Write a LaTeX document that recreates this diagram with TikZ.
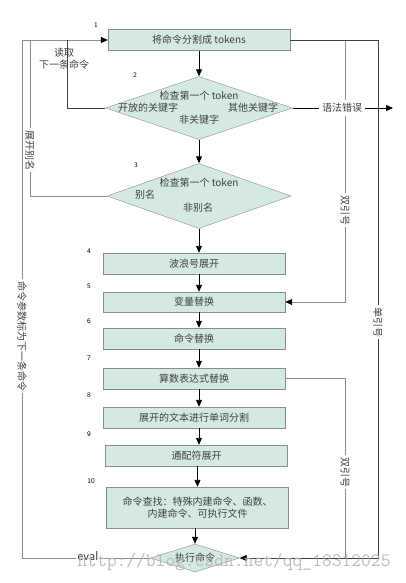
\documentclass[tikz,border=0pt]{standalone}
\usepackage{fontspec}
\newfontfamily\cjk{Noto Sans CJK SC}
\usetikzlibrary{arrows.meta,shapes.geometric,positioning}
\definecolor{boxfill}{RGB}{212,233,228}
\definecolor{edgegray}{RGB}{140,140,140}
\tikzset{
  stepbox/.style={draw=edgegray, fill=boxfill, minimum width=182pt, minimum height=21pt, inner sep=2pt, font=\cjk\fontsize{10}{12}\selectfont, text=black!75},
  decide/.style={diamond, draw=edgegray, fill=boxfill, inner sep=0pt},
  lbl/.style={font=\cjk\fontsize{10}{12}\selectfont, text=black!75, inner sep=1pt},
  num/.style={font=\sffamily\fontsize{7}{8}\selectfont, inner sep=0pt},
  vlbl/.style={lbl, rotate=-90, fill=white, inner sep=2pt},
  tip/.style={-{Triangle[length=7pt,width=6pt,black]}},
  flow/.style={line width=0.9pt, tip},
  back/.style={draw=edgegray, line width=0.6pt},
  dark/.style={draw=black!75, line width=0.7pt}
}
\begin{document}
\begin{tikzpicture}[x=1pt,y=-1pt]
  \useasboundingbox[fill=white] (0,0) rectangle (405,583);
  % main column
  \node[stepbox] (split) at (199,40) {将命令分割成 tokens};
  \node[decide, minimum width=187pt, minimum height=63pt] (kw) at (199,108) {};
  \node[lbl] (kwq) at (199,96) {检查第一个 token};
  \node[lbl] (kwopen) at (148,108) {开放的关键字};
  \node[lbl] (kwother) at (253,108) {其他关键字};
  \node[lbl] (kwnone) at (199,120) {非关键字};
  \node[decide, minimum width=184pt, minimum height=65pt] (alias) at (199,196) {};
  \node[lbl] (aliasq) at (199,183) {检查第一个 token};
  \node[lbl] (aliasyes) at (145,195) {别名};
  \node[lbl] (aliasno) at (198,208) {非别名};
  \node[stepbox] (tilde) at (194,263.5) {波浪号展开};
  \node[stepbox, minimum height=20pt] (vars) at (194,302) {变量替换};
  \node[stepbox] (cmdsub) at (194,338.5) {命令替换};
  \node[stepbox] (arith) at (194,378.5) {算数表达式替换};
  \node[stepbox] (words) at (194,417.5) {展开的文本进行单词分割};
  \node[stepbox] (glob) at (196.5,455.5) {通配符展开};
  \node[stepbox, minimum height=41pt, align=center] (lookup) at (197.5,507.5) {命令查找：特殊内建命令、函数、\\内建命令、可执行文件};
  \node[decide, minimum width=89pt, minimum height=28pt] (exec) at (195,558) {};
  \node[lbl] (execq) at (195,558) {执行命令};
  \node[font=\sffamily\fontsize{13}{14}\selectfont, text=black!80, inner sep=2pt] (eval) at (88,556) {eval};

  % step numbers
  \node[num] (n1) at (96,25) {1};
  \node[num] (n2) at (135,75) {2};
  \node[num] (n3) at (136,165) {3};
  \node[num] (n4) at (89,251) {4};
  \node[num] (n5) at (89,286) {5};
  \node[num] (n6) at (89,321) {6};
  \node[num] (n7) at (89,358) {7};
  \node[num] (n8) at (89,395) {8};
  \node[num] (n9) at (89,434) {9};
  \node[num] (n10) at (91,481) {10};

  % main flow
  \draw[flow] (split.south) -- (split.south |- kw.north);
  \draw[flow] (kw.south) -- (alias.north);
  \draw[flow] (alias.south) -- (alias.south |- tilde.north);
  \draw[flow] (tilde.south -| alias.south) -- (vars.north -| alias.south);
  \draw[flow] (vars.south -| alias.south) -- (cmdsub.north -| alias.south);
  \draw[flow] (cmdsub.south -| alias.south) -- (arith.north -| alias.south);
  \draw[flow] (arith.south -| alias.south) -- (words.north -| alias.south);
  \draw[flow] (words.south -| alias.south) -- (glob.north -| alias.south);
  \draw[flow] (glob.south -| lookup.south) -- (lookup.north -| lookup.south);
  \draw[flow] (lookup.south -| exec.north) -- (exec.north);

  % syntax error
  \node[lbl, fill=white, inner sep=3pt] (err) at (342,108) {语法错误};
  \coordinate (errout) at (393,108);

  % left loops
  \coordinate (lefttop) at (22,40);
  \coordinate (aliastop) at (30,40);
  \coordinate (readtop) at (67,40);
  \draw[back] (exec.west) -- (exec.west -| eval.east);
  \draw[back, tip] (eval.west |- exec.west) -| (lefttop) -- (split.west);
  \draw[back] (alias.west) -| (aliastop);
  \draw[dark] (kw.west) -| (readtop);

  % right loops
  \coordinate (rtop) at (378,40);
  \coordinate (rbot) at (378,558);
  \coordinate (qtop) at (345,40);
  \coordinate (qmid) at (345,302);
  \coordinate (qbot) at (345,558);
  \draw[back, tip] (qtop) -- (qmid) -- (vars.east);
  \draw[back] (arith.east) -| (qbot);
  \draw[dark, tip] (split.east) -- (rtop) -- (rbot) -- (exec.east);
  \node[lbl, fill=white, inner sep=3pt] at (err) {语法错误};
  \draw[flow, -] (kw.east) -- (err.west);
  \draw[flow] (err.east) -- (errout);

  % labels on the loops
  \node[lbl] (read) at (64,59) [align=center] {读取\\下一条命令};
  \node[vlbl] (expalias) at (30,150) {展开别名};
  \node[vlbl] (asnext) at (22,336) {命令参数标为下一条命令};
  \node[vlbl] (dq1) at (345,210) {双引号};
  \node[vlbl] (sq) at (378,322) {单引号};
  \node[vlbl] (dq2) at (345,472) {双引号};

  % watermark
  \node[font=\ttfamily\fontsize{19}{20}\selectfont, text=black!30, opacity=0.85] (mark) at (234,562) {http://blog.csdn.net/qq\_18312025};
\end{tikzpicture}
\end{document}
